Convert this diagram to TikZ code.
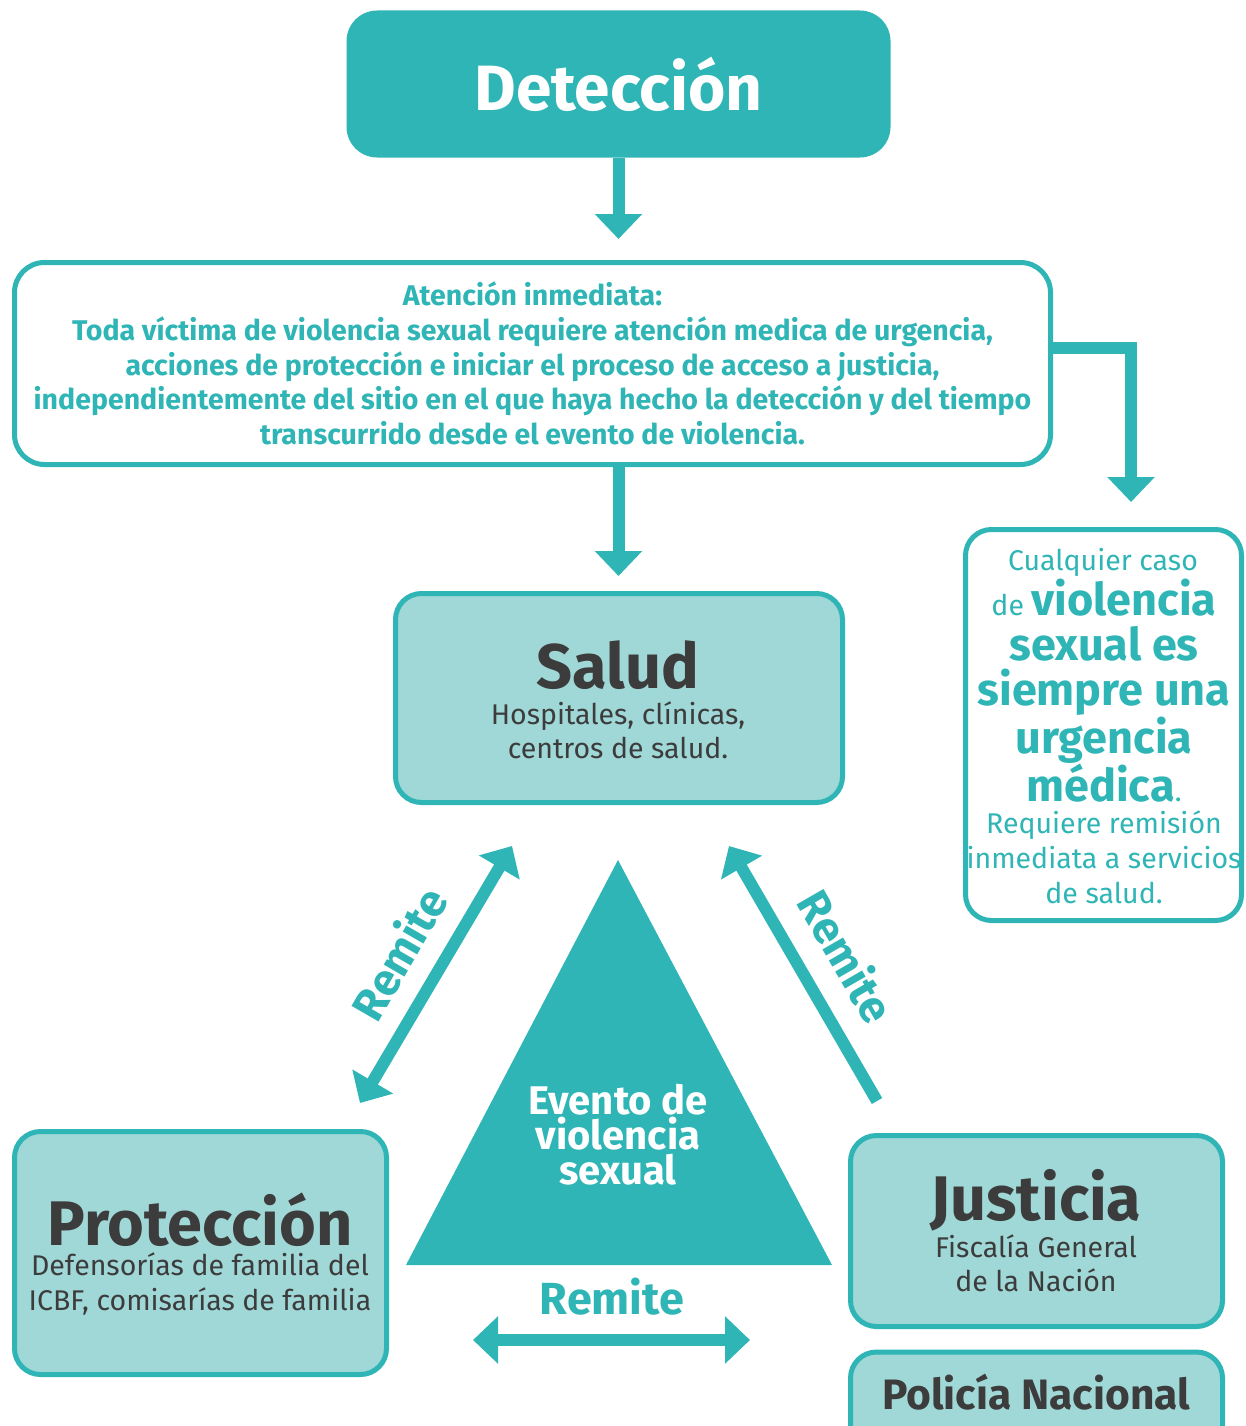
\documentclass[tikz,border=0pt]{standalone}
\usepackage{fontspec}
\setmainfont{Fira Sans}
\usetikzlibrary{arrows.meta}
\definecolor{tealA}{HTML}{2FB5B5}
\definecolor{tealL}{HTML}{A0D7D7}
\definecolor{grayT}{HTML}{3C3C3C}
\newcommand{\fsz}[2]{\fontsize{#1}{#2}\selectfont}

\begin{document}
\begin{tikzpicture}[x=1pt,y=-1pt,
  box/.style={draw=tealA,line width=5pt,rounded corners=26pt,inner sep=0pt},
  lbox/.style={box,fill=tealL},
  wbox/.style={box,fill=white},
  flow/.style={draw=tealA,line width=12pt,-{Triangle[width=46pt,length=25pt]}},
  both/.style={flow,{Triangle[width=46pt,length=25pt]}-{Triangle[width=46pt,length=25pt]}},
  title/.style={font=\fsz{63}{63}\bfseries,text=grayT},
  sub/.style={font=\fsz{28.5}{34.5},text=grayT,align=center},
  rlab/.style={font=\fsz{45}{45}\bfseries,text=tealA}]
\useasboundingbox (0,0) rectangle (1245,1426);

\node[box,fill=tealA,minimum width=539pt,minimum height=142pt,rounded corners=28pt,
  font=\fsz{64}{64}\bfseries,text=white] (det) at (618.5,84) {Detección};

\node[wbox,minimum width=1036pt,minimum height=202pt,rounded corners=30pt,
  font=\fsz{28.5}{34.6}\bfseries,text=tealA,align=center] (aten) at (532.5,363.5)
  {Atención inmediata:\\Toda víctima de violencia sexual requiere atención medica de urgencia,\\
   acciones de protección e iniciar el proceso de acceso a justicia,\\
   independientemente del sitio en el que haya hecho la detección y del tiempo\\
   transcurrido desde el evento de violencia.};

\node[wbox,minimum width=276pt,minimum height=391pt] (caso) at (1103.5,725) {};
\node[font=\fsz{28.5}{35},text=tealA] (caso1) at (1103,562) {Cualquier caso};
\node[font=\fsz{45}{45}\bfseries,text=tealA,align=center] (caso2) at (1104,691)
  {{\fsz{28.5}{35}\mdseries de }violencia\\sexual es\\siempre una\\urgencia\\médica{\fsz{28.5}{35}\mdseries .}};
\node[font=\fsz{28.5}{35},text=tealA,align=center] (caso3) at (1104,857)
  {Requiere remisión\\inmediata a servicios\\de salud.};

\node[lbox,minimum width=447pt,minimum height=209pt] (salud) at (619,698) {};
\node[title] (saludT) at (618,665) {Salud};
\node[sub] (saludS) at (618,730) {Hospitales, clínicas,\\centros de salud.};

\fill[tealA] (618,860) -- (832,1265) -- (406,1265) -- cycle;
\node[font=\fsz{40}{35}\bfseries,text=white,align=center] (evento) at (618,1135)
  {Evento de\\violencia\\sexual};

\node[lbox,minimum width=372pt,minimum height=243pt] (prot) at (200.5,1253) {};
\node[title] (protT) at (200,1220) {Protección};
\node[sub] (protS) at (200,1284) {Defensorías de familia del\\ICBF, comisarías de familia};

\node[lbox,minimum width=372pt,minimum height=191pt] (just) at (1036.5,1231) {};
\node[title] (justT) at (1036,1200) {Justicia};
\node[sub] (justS) at (1036,1263) {Fiscalía General\\de la Nación};

\node[lbox,minimum width=372pt,minimum height=100pt] (pol) at (1036.5,1402) {};
\node[font=\fsz{42.5}{42}\bfseries,text=grayT] (polT) at (1036,1392) {Policía Nacional};

\coordinate (c1) at (1131,502);
\coordinate (l1) at (512,846);
\coordinate (l2) at (360,1103);
\coordinate (r1) at (877,1101);
\coordinate (r2) at (729,846);
\coordinate (b1) at (473,1340);
\coordinate (b2) at (750,1340);

\draw[flow,shorten >=21pt] (det.south) -- (det.south |- aten.north);
\draw[flow,shorten >=15pt] (det.south |- aten.south) -- (det.south |- salud.north);
\draw[flow] ([yshift=16pt]aten.east) -| (c1);
\draw[both] (l1) -- (l2);
\draw[flow] (r1) -- (r2);
\draw[both] (b1) -- (b2);

\node[rlab,rotate=60] (rem1) at (398,953) {Remite};
\node[rlab,rotate=-60] (rem2) at (847,956) {Remite};
\node[rlab] (rem3) at (612,1297) {Remite};
\end{tikzpicture}
\end{document}
